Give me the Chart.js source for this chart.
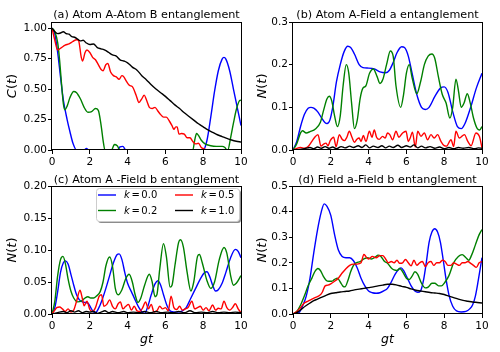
<!DOCTYPE html>
<html>
<head>
<title>Entanglement dynamics</title>
<script src="https://cdn.jsdelivr.net/npm/chart.js"></script>
<style>
  body { margin: 0; background: white; }
  #wrap { position: relative; width: 500px; height: 352px; }
  #wrap canvas { position: absolute; left: 0; top: 0; }
</style>
</head>
<body>
<div id="wrap">
  <canvas id="pa" width="500" height="352"></canvas>
  <canvas id="pb" width="500" height="352"></canvas>
  <canvas id="pc" width="500" height="352"></canvas>
  <canvas id="pd" width="500" height="352"></canvas>
</div>
<script>
// series labels / colours (k values)
const seriesLabels = ['k = 0.0', 'k = 0.2', 'k = 0.5', 'k = 1.0'];
const seriesColors = ['blue', 'green', 'red', 'black'];

const xTicks = [0, 2, 4, 6, 8, 10];
const xTickLabels = ['0', '2', '4', '6', '8', '10'];

// (a) Atom A - Atom B, C(t)
const aTicks = [0, 0.25, 0.5, 0.75, 1.0];
const aTickLabels = ['0.00', '0.25', '0.50', '0.75', '1.00'];
const a_k00 = [[0,1.0],[0.15,0.95],[0.3,0.8],[0.45,0.6],[0.6,0.41],[0.8,0.25],[0.95,0.15],[1.1,0.06],[1.3,0],[1.7,0],[1.82,0.012],[1.95,0],[3.45,0],[3.6,0.025],[3.75,0.03],[3.9,0],[8.0,0],[8.2,0.08],[8.4,0.27],[8.6,0.48],[8.8,0.65],[9.0,0.745],[9.1,0.76],[9.2,0.745],[9.4,0.65],[9.6,0.5],[9.8,0.35],[10,0.2]];
const a_k02 = [[0,1.0],[0.15,0.97],[0.3,0.88],[0.4,0.74],[0.5,0.55],[0.6,0.38],[0.68,0.33],[0.8,0.36],[0.95,0.43],[1.15,0.48],[1.3,0.47],[1.5,0.42],[1.7,0.35],[1.9,0.31],[2.1,0.315],[2.3,0.34],[2.45,0.325],[2.6,0.2],[2.72,0.06],[2.8,0],[3.15,0],[3.3,0.045],[3.45,0.035],[3.6,0],[7.45,0],[7.55,0.08],[7.65,0.135],[7.75,0.12],[7.9,0.08],[8.1,0.05],[8.4,0.035],[8.7,0.03],[9.0,0.03],[9.15,0.02],[9.25,0],[9.3,0],[9.45,0.1],[9.6,0.22],[9.75,0.33],[9.9,0.4],[10,0.41]];
const a_k05 = [[0,1.0],[0.15,0.9],[0.3,0.82],[0.5,0.84],[0.7,0.86],[0.9,0.87],[1.1,0.89],[1.3,0.905],[1.4,0.9],[1.55,0.76],[1.62,0.73],[1.75,0.8],[1.85,0.82],[2.0,0.8],[2.15,0.76],[2.3,0.74],[2.45,0.7],[2.6,0.66],[2.7,0.65],[2.85,0.7],[2.95,0.71],[3.1,0.64],[3.25,0.61],[3.4,0.6],[3.55,0.58],[3.7,0.61],[3.8,0.6],[3.95,0.56],[4.1,0.53],[4.25,0.52],[4.45,0.45],[4.6,0.39],[4.75,0.42],[4.88,0.45],[5.0,0.41],[5.15,0.35],[5.3,0.34],[5.45,0.35],[5.6,0.32],[5.75,0.29],[5.9,0.27],[6.05,0.27],[6.2,0.24],[6.35,0.2],[6.45,0.17],[6.55,0.19],[6.62,0.19],[6.72,0.13],[6.85,0.135],[7.0,0.13],[7.15,0.1],[7.3,0.1],[7.45,0.07],[7.6,0.05],[7.75,0.055],[7.9,0.02],[8.05,0.01],[8.2,0],[10,0]];
const a_k10 = [[0,1.0],[0.15,0.97],[0.3,0.955],[0.45,0.96],[0.6,0.97],[0.75,0.955],[0.9,0.95],[1.05,0.93],[1.2,0.925],[1.35,0.91],[1.5,0.895],[1.65,0.9],[1.8,0.88],[2.0,0.865],[2.2,0.87],[2.4,0.84],[2.6,0.83],[2.8,0.82],[3.0,0.8],[3.2,0.78],[3.4,0.77],[3.6,0.74],[3.8,0.73],[4.0,0.715],[4.25,0.68],[4.5,0.655],[4.75,0.61],[5.0,0.575],[5.25,0.535],[5.5,0.5],[5.75,0.47],[6.0,0.44],[6.25,0.405],[6.5,0.37],[6.75,0.34],[7.0,0.305],[7.25,0.275],[7.5,0.245],[7.75,0.215],[8.0,0.19],[8.25,0.165],[8.5,0.145],[8.75,0.125],[9.0,0.11],[9.25,0.095],[9.5,0.082],[9.75,0.072],[10,0.065]];

// (b) Atom A - Field a, N(t)
const bTicks = [0, 0.1, 0.2, 0.3];
const bTickLabels = ['0.0', '0.1', '0.2', '0.3'];
const b_k00 = [[0,0],[0.2,0.02],[0.4,0.055],[0.6,0.083],[0.8,0.098],[0.95,0.1],[1.1,0.098],[1.3,0.09],[1.5,0.076],[1.7,0.064],[1.8,0.062],[1.95,0.07],[2.1,0.1],[2.3,0.16],[2.5,0.2],[2.7,0.23],[2.9,0.243],[3.05,0.24],[3.25,0.225],[3.5,0.2],[3.7,0.193],[4.0,0.192],[4.3,0.19],[4.6,0.183],[4.9,0.181],[5.1,0.187],[5.3,0.205],[5.5,0.228],[5.75,0.242],[5.9,0.24],[6.1,0.22],[6.3,0.18],[6.55,0.13],[6.8,0.1],[7.0,0.095],[7.2,0.1],[7.5,0.125],[7.8,0.145],[8.0,0.148],[8.2,0.135],[8.45,0.09],[8.7,0.055],[8.9,0.05],[9.1,0.062],[9.4,0.1],[9.7,0.145],[10,0.18]];
const b_k02 = [[0,0],[0.2,0.015],[0.4,0.04],[0.5,0.045],[0.7,0.04],[0.9,0.043],[1.2,0.05],[1.45,0.065],[1.6,0.09],[1.8,0.12],[1.92,0.126],[2.05,0.115],[2.2,0.08],[2.35,0.055],[2.5,0.08],[2.65,0.15],[2.82,0.2],[2.95,0.18],[3.1,0.11],[3.25,0.05],[3.4,0.07],[3.55,0.12],[3.7,0.145],[3.85,0.15],[4.05,0.18],[4.25,0.19],[4.45,0.172],[4.6,0.156],[4.75,0.165],[4.95,0.2],[5.15,0.232],[5.3,0.22],[5.45,0.15],[5.7,0.1],[5.85,0.13],[6.0,0.18],[6.15,0.2],[6.3,0.17],[6.55,0.132],[6.75,0.16],[6.95,0.2],[7.15,0.22],[7.35,0.225],[7.5,0.215],[7.7,0.17],[7.9,0.13],[8.1,0.11],[8.3,0.075],[8.45,0.1],[8.62,0.166],[8.75,0.14],[8.9,0.1],[9.05,0.11],[9.22,0.132],[9.38,0.11],[9.55,0.075],[9.75,0.05],[9.88,0.047],[10,0.055]];
const b_k05 = [[0,0],[0.2,0.004],[0.4,0.006],[0.6,0.004],[0.8,0.008],[1.0,0.02],[1.15,0.03],[1.32,0.036],[1.48,0.009],[1.62,0.014],[1.75,0.016],[1.85,0.01],[1.97,0.022],[2.15,0.03],[2.28,0.008],[2.45,0.036],[2.6,0.025],[2.72,0.022],[2.85,0.03],[2.98,0.044],[3.12,0.03],[3.25,0.018],[3.38,0.025],[3.5,0.028],[3.6,0.02],[3.72,0.034],[3.86,0.02],[4.04,0.044],[4.18,0.03],[4.3,0.047],[4.42,0.03],[4.56,0.025],[4.74,0.032],[4.88,0.028],[5.0,0.04],[5.12,0.036],[5.27,0.024],[5.45,0.044],[5.6,0.03],[5.8,0.04],[5.98,0.044],[6.1,0.02],[6.2,0.028],[6.32,0.042],[6.47,0.007],[6.6,0.044],[6.77,0.032],[6.95,0.04],[7.12,0.024],[7.3,0.036],[7.47,0.028],[7.65,0.036],[7.83,0.02],[8.0,0.01],[8.12,0.009],[8.36,0.024],[8.5,0.008],[8.62,0.044],[8.8,0.028],[9.07,0.036],[9.25,0.02],[9.42,0.01],[9.68,0.04],[9.86,0.032],[10,0.005]];
const b_k10 = [[0,0],[0.3,0.001],[0.6,0.003],[0.9,0.006],[1.1,0.003],[1.3,0.007],[1.5,0.004],[1.7,0.008],[1.9,0.004],[2.1,0.007],[2.3,0.003],[2.55,0.008],[2.75,0.005],[3.0,0.009],[3.2,0.006],[3.45,0.01],[3.65,0.006],[3.85,0.012],[4.05,0.005],[4.25,0.009],[4.5,0.006],[4.7,0.01],[4.9,0.005],[5.1,0.009],[5.3,0.006],[5.55,0.011],[5.75,0.006],[6.0,0.01],[6.2,0.007],[6.4,0.012],[6.6,0.005],[6.8,0.009],[7.0,0.005],[7.25,0.008],[7.5,0.004],[7.75,0.007],[8.0,0.003],[8.25,0.006],[8.5,0.003],[8.75,0.006],[9.0,0.004],[9.3,0.006],[9.6,0.003],[9.8,0.005],[10,0.004]];

// (c) Atom A - Field b, N(t)
const cTicks = [0, 0.05, 0.1, 0.15, 0.2];
const cTickLabels = ['0.00', '0.05', '0.10', '0.15', '0.20'];
const c_k00 = [[0,0],[0.15,0.01],[0.3,0.035],[0.45,0.065],[0.6,0.08],[0.72,0.083],[0.85,0.078],[1.0,0.062],[1.15,0.045],[1.3,0.03],[1.45,0.022],[1.6,0.019],[1.75,0.018],[1.9,0.017],[2.05,0.01],[2.2,0.003],[2.3,0.002],[2.45,0.008],[2.65,0.022],[2.85,0.04],[3.05,0.06],[3.25,0.08],[3.45,0.093],[3.55,0.094],[3.7,0.085],[3.85,0.065],[4.0,0.048],[4.2,0.035],[4.4,0.022],[4.6,0.01],[4.8,0.002],[4.9,0.001],[5.05,0.01],[5.25,0.03],[5.45,0.047],[5.6,0.052],[5.75,0.045],[5.9,0.03],[6.1,0.012],[6.3,0.004],[6.6,0.003],[6.9,0.005],[7.1,0.01],[7.35,0.025],[7.6,0.04],[7.85,0.055],[8.05,0.064],[8.2,0.066],[8.35,0.058],[8.5,0.045],[8.65,0.036],[8.8,0.038],[9.0,0.048],[9.2,0.065],[9.45,0.088],[9.7,0.101],[9.85,0.098],[10,0.088]];
const c_k02 = [[0,0],[0.15,0.02],[0.3,0.06],[0.45,0.085],[0.58,0.09],[0.7,0.08],[0.85,0.055],[1.0,0.036],[1.15,0.025],[1.35,0.019],[1.55,0.02],[1.75,0.025],[1.9,0.027],[2.05,0.025],[2.2,0.025],[2.35,0.028],[2.55,0.035],[2.7,0.05],[2.85,0.075],[3.05,0.089],[3.2,0.075],[3.35,0.04],[3.5,0.03],[3.7,0.038],[3.9,0.055],[4.08,0.062],[4.25,0.05],[4.4,0.03],[4.55,0.018],[4.7,0.025],[4.9,0.045],[5.15,0.062],[5.3,0.05],[5.45,0.027],[5.55,0.03],[5.7,0.07],[5.9,0.11],[6.05,0.09],[6.25,0.042],[6.35,0.045],[6.5,0.075],[6.7,0.112],[6.8,0.116],[6.95,0.105],[7.15,0.065],[7.35,0.036],[7.5,0.05],[7.7,0.09],[7.8,0.093],[7.95,0.08],[8.2,0.052],[8.4,0.04],[8.6,0.05],[8.85,0.085],[9.1,0.104],[9.25,0.095],[9.45,0.06],[9.6,0.045],[9.75,0.048],[10,0.06]];
const c_k05 = [[0,0],[0.1,0.004],[0.25,0.01],[0.4,0.011],[0.55,0.008],[0.7,0.004],[0.85,0.008],[1.0,0.003],[1.15,0.006],[1.3,0.02],[1.48,0.037],[1.6,0.025],[1.7,0.013],[1.85,0.02],[2.0,0.007],[2.15,0.004],[2.3,0.01],[2.5,0.028],[2.62,0.03],[2.75,0.012],[2.9,0.015],[3.05,0.022],[3.2,0.012],[3.35,0.008],[3.5,0.016],[3.62,0.019],[3.75,0.008],[3.9,0.012],[4.05,0.015],[4.2,0.006],[4.35,0.012],[4.5,0.005],[4.65,0.004],[4.8,0.01],[4.95,0.019],[5.1,0.008],[5.25,0.015],[5.4,0.003],[5.55,0.005],[5.7,0.012],[5.85,0.008],[6.0,0.01],[6.15,0.005],[6.3,0.028],[6.45,0.01],[6.6,0.007],[6.75,0.012],[6.9,0.006],[7.05,0.008],[7.2,0.01],[7.4,0.02],[7.55,0.008],[7.7,0.01],[7.85,0.012],[8.0,0.006],[8.15,0.01],[8.3,0.005],[8.5,0.014],[8.65,0.006],[8.8,0.009],[8.95,0.008],[9.1,0.02],[9.25,0.01],[9.4,0.006],[9.55,0.01],[9.7,0.016],[9.85,0.008],[10,0.002]];
const c_k10 = [[0,0],[0.3,0.002],[0.6,0.004],[0.8,0.002],[1.0,0.005],[1.2,0.003],[1.4,0.005],[1.6,0.002],[1.8,0.004],[2.0,0.003],[2.2,0.004],[2.4,0.001],[2.6,0.003],[2.8,0.005],[3.0,0.002],[3.2,0.004],[3.5,0.002],[3.8,0.004],[4.0,0.002],[4.3,0.003],[4.6,0.002],[4.9,0.004],[5.2,0.002],[5.5,0.004],[5.8,0.002],[6.1,0.003],[6.4,0.002],[6.7,0.004],[7.0,0.002],[7.3,0.005],[7.6,0.002],[7.9,0.003],[8.2,0.002],[8.5,0.004],[8.8,0.002],[9.1,0.003],[9.4,0.002],[9.7,0.003],[10,0.002]];

// (d) Field a - Field b, N(t)
const dTicks = [0, 0.1, 0.2, 0.3, 0.4, 0.5];
const dTickLabels = ['0.0', '0.1', '0.2', '0.3', '0.4', '0.5'];
const d_k00 = [[0,0],[0.2,0.002],[0.35,0.008],[0.5,0.03],[0.7,0.07],[0.9,0.14],[1.1,0.24],[1.3,0.33],[1.5,0.4],[1.65,0.43],[1.8,0.42],[2.0,0.385],[2.2,0.31],[2.4,0.25],[2.6,0.225],[2.8,0.22],[3.0,0.22],[3.2,0.208],[3.4,0.18],[3.6,0.14],[3.8,0.11],[4.0,0.09],[4.2,0.083],[4.4,0.081],[4.6,0.083],[4.8,0.09],[5.0,0.1],[5.2,0.125],[5.4,0.155],[5.6,0.175],[5.72,0.18],[5.85,0.17],[6.05,0.14],[6.25,0.11],[6.45,0.09],[6.6,0.085],[6.75,0.09],[6.9,0.13],[7.05,0.2],[7.2,0.28],[7.35,0.32],[7.5,0.333],[7.65,0.32],[7.8,0.28],[7.95,0.21],[8.1,0.135],[8.25,0.075],[8.45,0.03],[8.65,0.012],[8.9,0.008],[9.15,0.01],[9.35,0.02],[9.5,0.035],[9.65,0.07],[9.8,0.13],[10,0.22]];
const d_k02 = [[0,0],[0.2,0.01],[0.4,0.035],[0.6,0.07],[0.8,0.11],[1.0,0.14],[1.15,0.165],[1.32,0.178],[1.45,0.17],[1.6,0.148],[1.75,0.132],[1.9,0.128],[2.05,0.128],[2.2,0.135],[2.35,0.14],[2.5,0.125],[2.65,0.108],[2.75,0.106],[2.9,0.13],[3.05,0.165],[3.2,0.19],[3.35,0.2],[3.55,0.205],[3.75,0.215],[3.95,0.22],[4.15,0.215],[4.35,0.222],[4.5,0.23],[4.65,0.225],[4.85,0.205],[5.0,0.198],[5.2,0.18],[5.35,0.172],[5.5,0.17],[5.65,0.178],[5.8,0.165],[6.0,0.14],[6.15,0.135],[6.3,0.148],[6.45,0.165],[6.6,0.155],[6.8,0.12],[7.0,0.102],[7.15,0.105],[7.35,0.12],[7.5,0.12],[7.7,0.11],[7.85,0.11],[8.05,0.125],[8.25,0.15],[8.5,0.2],[8.75,0.225],[8.95,0.232],[9.15,0.22],[9.3,0.21],[9.45,0.23],[9.65,0.27],[9.85,0.31],[10,0.33]];
const d_k05 = [[0,0],[0.2,0.01],[0.4,0.025],[0.6,0.043],[0.8,0.05],[1.0,0.058],[1.2,0.065],[1.4,0.072],[1.55,0.085],[1.7,0.11],[1.85,0.113],[2.0,0.118],[2.2,0.128],[2.4,0.14],[2.6,0.16],[2.8,0.177],[3.0,0.19],[3.2,0.195],[3.4,0.195],[3.6,0.2],[3.75,0.233],[3.85,0.225],[4.0,0.215],[4.2,0.225],[4.4,0.22],[4.6,0.228],[4.75,0.228],[4.9,0.215],[5.05,0.2],[5.2,0.205],[5.35,0.2],[5.5,0.21],[5.65,0.198],[5.8,0.2],[5.95,0.213],[6.1,0.2],[6.25,0.188],[6.4,0.21],[6.55,0.19],[6.7,0.2],[6.85,0.205],[7.0,0.185],[7.15,0.2],[7.3,0.205],[7.45,0.19],[7.6,0.2],[7.75,0.2],[7.9,0.21],[8.05,0.205],[8.2,0.19],[8.35,0.19],[8.5,0.2],[8.65,0.195],[8.8,0.19],[8.95,0.2],[9.1,0.2],[9.25,0.205],[9.4,0.198],[9.55,0.19],[9.7,0.182],[9.85,0.2],[10,0.205]];
const d_k10 = [[0,0],[0.15,0.003],[0.3,0.01],[0.5,0.022],[0.7,0.033],[0.9,0.043],[1.1,0.052],[1.3,0.058],[1.5,0.065],[1.75,0.073],[2.0,0.08],[2.25,0.083],[2.5,0.086],[2.75,0.088],[3.0,0.09],[3.25,0.094],[3.5,0.097],[3.75,0.1],[4.0,0.103],[4.25,0.106],[4.5,0.11],[4.75,0.113],[5.0,0.116],[5.25,0.116],[5.5,0.113],[5.75,0.108],[6.0,0.104],[6.25,0.098],[6.5,0.093],[6.75,0.09],[7.0,0.087],[7.25,0.084],[7.5,0.082],[7.75,0.08],[8.0,0.076],[8.25,0.07],[8.5,0.064],[8.75,0.058],[9.0,0.053],[9.25,0.05],[9.5,0.047],[9.75,0.045],[10,0.043]];

const FONT = '"DejaVu Sans", sans-serif';
const Y_W = 50, X_H = 30;

// draws text made of [string, italic] pieces, like matplotlib mathtext
function drawParts(ctx, parts, x, y, size, align, gap) {
    gap = gap || 0;
    const widths = parts.map(p => {
        ctx.font = (p[1] ? 'italic ' : '') + size + 'px ' + FONT;
        return ctx.measureText(p[0]).width;
    });
    const total = widths.reduce((a, b) => a + b, 0) + gap * (parts.length - 1);
    let cx = align === 'center' ? x - total / 2 : x;
    parts.forEach((p, i) => {
        ctx.font = (p[1] ? 'italic ' : '') + size + 'px ' + FONT;
        ctx.fillText(p[0], cx, y);
        cx += widths[i] + gap;
    });
}

function makePanel(id, cfg) {
    const box = cfg.box;
    const decor = {
        id: 'decor',
        afterDraw(chart) {
            const ctx = chart.ctx;
            const a = chart.chartArea;
            ctx.save();
            ctx.strokeStyle = 'black';
            ctx.lineWidth = 1;
            ctx.strokeRect(Math.round(a.left) - 0.5, Math.round(a.top) + 0.5, Math.round(a.right - a.left) + 1, Math.round(a.bottom - a.top) - 1);
            ctx.fillStyle = 'black';
            ctx.textBaseline = 'alphabetic';
            ctx.textAlign = 'left';
            drawParts(ctx, [[cfg.title, false]], (a.left + a.right) / 2, a.top - cfg.titleGap, 11.2, 'center');
            ctx.save();
            ctx.translate(cfg.ylabelX, (a.top + a.bottom) / 2);
            ctx.rotate(-Math.PI / 2);
            ctx.textBaseline = 'middle';
            drawParts(ctx, cfg.ylabel, 0, 0, 13, 'center');
            ctx.restore();
            if (cfg.xlabel) {
                drawParts(ctx, [['gt', true]], (a.left + a.right) / 2, 343, 12.5, 'center');
            }
            if (cfg.legend) {
                const lx = 96, ly = 188, lw = 143, lh = 33;
                ctx.fillStyle = 'rgba(0,0,0,0.45)';
                ctx.beginPath();
                ctx.roundRect(lx + 2, ly + 2, lw, lh, 3);
                ctx.fill();
                ctx.fillStyle = 'white';
                ctx.strokeStyle = '#cccccc';
                ctx.beginPath();
                ctx.roundRect(lx + 0.5, ly + 0.5, lw, lh, 3);
                ctx.fill();
                ctx.stroke();
                const cols = [[0, 1], [2, 3]];
                const colX = [98, 175];
                const rowY = [195, 210.5];
                ctx.textBaseline = 'middle';
                cols.forEach((col, ci) => {
                    col.forEach((si, ri) => {
                        ctx.strokeStyle = seriesColors[si];
                        ctx.lineWidth = 1.4;
                        ctx.beginPath();
                        ctx.moveTo(colX[ci], rowY[ri]);
                        ctx.lineTo(colX[ci] + 18, rowY[ri]);
                        ctx.stroke();
                        ctx.fillStyle = 'black';
                        const val = seriesLabels[si].split('= ')[1];
                        drawParts(ctx, [['k', true], ['=', false], [val, false]], colX[ci] + 26, rowY[ri] + 0.5, 10, 'left', 1.6);
                    });
                });
            }
            ctx.restore();
        }
    };
    const series = cfg.series;
    return new Chart(document.getElementById(id), {
        type: 'line',
        data: {
            datasets: series.map((pts, i) => ({
                label: seriesLabels[i],
                data: pts.map(p => ({ x: p[0], y: p[1] })),
                borderColor: seriesColors[i],
                borderWidth: 1.4,
                pointRadius: 0,
                fill: false,
                cubicInterpolationMode: 'monotone',
                order: 3 - i
            }))
        },
        options: {
            responsive: false,
            animation: false,
            events: [],
            layout: {
                padding: {
                    left: box.left - Y_W,
                    right: 500 - box.right,
                    top: box.top,
                    bottom: 352 - box.bottom - X_H
                }
            },
            scales: {
                x: {
                    type: 'linear',
                    min: 0,
                    max: 10,
                    afterBuildTicks: s => { s.ticks = xTicks.map(v => ({ value: v })); },
                    afterFit: s => { s.height = X_H; },
                    grid: { drawOnChartArea: false, drawTicks: true, tickLength: 4, color: 'black' },
                    border: { display: false },
                    ticks: {
                        color: 'black',
                        padding: 2,
                        maxRotation: 0,
                        font: { family: FONT, size: 10.5 },
                        callback: (v, i) => xTickLabels[i]
                    }
                },
                y: {
                    type: 'linear',
                    min: 0,
                    max: cfg.yMax,
                    afterBuildTicks: s => { s.ticks = cfg.yTicks.map(v => ({ value: v })); },
                    afterFit: s => { s.width = Y_W; },
                    grid: { drawOnChartArea: false, drawTicks: true, tickLength: 4, color: 'black' },
                    border: { display: false },
                    ticks: {
                        color: 'black',
                        padding: 1,
                        font: { family: FONT, size: 10.5 },
                        callback: (v, i) => cfg.yTickLabels[i]
                    }
                }
            },
            plugins: {
                legend: { display: false },
                tooltip: { enabled: false }
            }
        },
        plugins: [decor]
    });
}

makePanel('pa', {
    box: { left: 52, right: 241, top: 22, bottom: 150 },
    series: [a_k00, a_k02, a_k05, a_k10],
    yMax: 1.05, yTicks: aTicks, yTickLabels: aTickLabels,
    title: '(a) Atom A-Atom B entanglement', titleGap: 4,
    ylabel: [['C', true], ['(', false], ['t', true], [')', false]], ylabelX: 13
});
makePanel('pb', {
    box: { left: 293, right: 482, top: 22, bottom: 150 },
    series: [b_k00, b_k02, b_k05, b_k10],
    yMax: 0.3, yTicks: bTicks, yTickLabels: bTickLabels,
    title: '(b) Atom A-Field a entanglement', titleGap: 4,
    ylabel: [['N', true], ['(', false], ['t', true], [')', false]], ylabelX: 263
});
makePanel('pc', {
    box: { left: 52, right: 241, top: 186, bottom: 314 },
    series: [c_k00, c_k02, c_k05, c_k10],
    yMax: 0.2, yTicks: cTicks, yTickLabels: cTickLabels,
    title: '(c) Atom A -Field b entanglement', titleGap: 3,
    ylabel: [['N', true], ['(', false], ['t', true], [')', false]], ylabelX: 13,
    xlabel: true, legend: true
});
makePanel('pd', {
    box: { left: 293, right: 482, top: 186, bottom: 314 },
    series: [d_k00, d_k02, d_k05, d_k10],
    yMax: 0.5, yTicks: dTicks, yTickLabels: dTickLabels,
    title: '(d) Field a-Field b entanglement', titleGap: 3,
    ylabel: [['N', true], ['(', false], ['t', true], [')', false]], ylabelX: 263,
    xlabel: true
});
</script>
</body>
</html>
